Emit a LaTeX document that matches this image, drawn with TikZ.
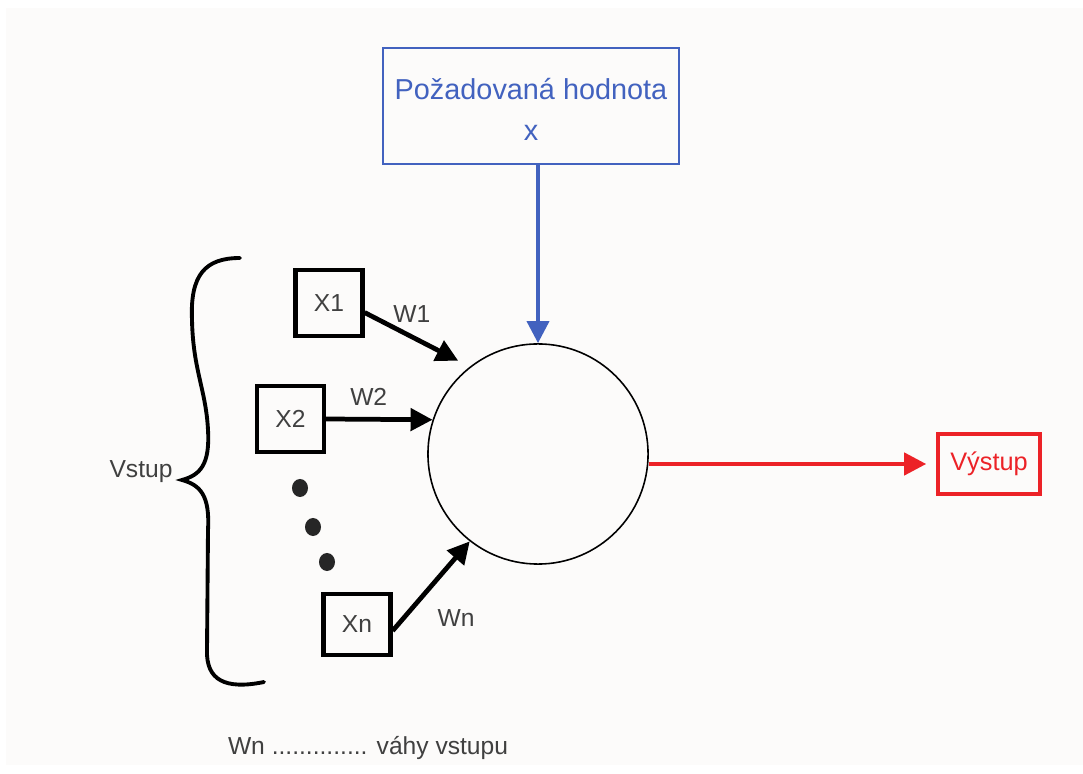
\documentclass[tikz,border=0pt]{standalone}
\usepackage{fontspec}
\setmainfont{Liberation Sans}
\usetikzlibrary{arrows.meta}
\definecolor{goalblue}{HTML}{4262BF}
\definecolor{outred}{HTML}{EC2227}
\definecolor{paper}{HTML}{FCFBFA}
\definecolor{labelgray}{HTML}{404040}
\begin{document}
\begin{tikzpicture}[x=0.01cm,y=-0.01cm]
        \tikzstyle{input}=[rectangle,draw=black,line width=1.2pt,minimum width=0.67cm,minimum height=0.66cm,inner sep=0pt,text=labelgray,font=\fontsize{7}{8}\selectfont]
        \tikzstyle{neuron}=[circle,draw=black,line width=0.45pt,minimum size=2.2cm,inner sep=0pt]
        \tikzstyle{goal}=[rectangle,draw=goalblue,line width=0.6pt,minimum width=2.94cm,minimum height=1.16cm,align=center,text=goalblue,font=\fontsize{8.2}{11.4}\selectfont]
        \tikzstyle{output}=[rectangle,draw=outred,line width=1pt,minimum width=1.02cm,minimum height=0.6cm,text=outred,font=\fontsize{7.2}{8}\selectfont]
        \tikzstyle{wlabel}=[text=labelgray,font=\fontsize{7}{8}\selectfont]
        \tikzstyle{edge}=[draw,line width=1.35pt]
        \tikzstyle{headed}=[-{Triangle[length=2.2mm,width=2.2mm]}]
        \tikzstyle{brace}=[draw,line width=1.1pt,line cap=round]

        \fill[white] (0,0) rectangle (1083,774);
        \fill[paper] (6,8) rectangle (1083,765);

        \node [goal] (goal) at (531,106) {\strut Požadovaná hodnota\\x};
        \node [neuron] (neuron) at (538,454) {};
        \node [input] (x1) at (329,303) {X1};
        \node [input] (x2) at (290.5,419) {X2};
        \node [input,minimum height=0.61cm] (xn) at (357,624.5) {Xn};
        \node [output] (out) at (989,464) {Výstup};
        \node [wlabel] (vstup) at (141,472) {Vstup};
        \node [wlabel] (legend) at (368,748) {Wn .............. váhy vstupu};

        % tecky mezi vstupy
        \fill[black!85] (300,488) ellipse (0.8mm and 0.9mm);
        \fill[black!85] (313,527) ellipse (0.8mm and 0.9mm);
        \fill[black!85] (327,562) ellipse (0.8mm and 0.9mm);

        \path[edge] (x1.-15) edge [headed, above, shorten >=1.3mm] node[wlabel, pos=0.45] {W1} (neuron.128);
        \path[edge] (x2.east) edge [headed, above] node[wlabel, pos=0.4] {W2} (neuron.162);
        \path[edge] (xn.-10) edge [headed, below right] node[wlabel, pos=0.4] {Wn} (neuron.232);

        \path[edge, draw=goalblue, fill=goalblue, line width=1.05pt] (neuron.north |- goal.south) edge [headed] (neuron.north);
        \path[edge, draw=outred, fill=outred, line width=1.2pt] (neuron.east |- out.west) edge [headed, shorten >=1mm] (out.west);

        % slozena zavorka
        \path[brace] (240,258) .. controls (205,258) and (190,275) .. (192,320)
            .. controls (193,370) and (206,390) .. (208,430)
            .. controls (210,465) and (200,475) .. (182,480)
            .. controls (200,485) and (210,495) .. (208,530)
            -- (207,650) .. controls (206,680) and (225,690) .. (264,682);
\end{tikzpicture}
\end{document}
